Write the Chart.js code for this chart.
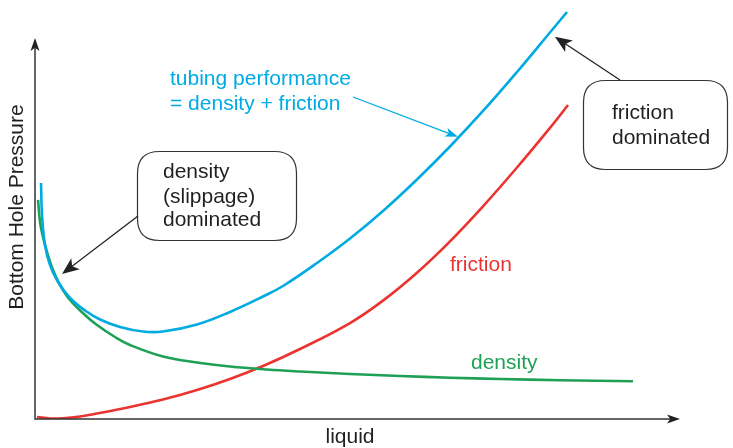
<!DOCTYPE html>
<html>
<head>
<meta charset="utf-8">
<script src="https://cdn.jsdelivr.net/npm/chart.js@4.4.1/dist/chart.umd.min.js"></script>
<style>
  html, body { margin: 0; padding: 0; background: #fff; }
  #wrap { width: 733px; height: 448px; }
</style>
</head>
<body>
<div id="wrap"><canvas id="c" width="733" height="448"></canvas></div>
<script>
// Schematic values (liquid rate vs bottom hole pressure, relative units 0-100)
const tubingX   = [0.93, 1.09, 1.55, 2.33, 3.57, 5.43, 7.75, 10.08, 13.18, 16.74, 19.84, 25.12, 30.23, 35.35, 38.45, 43.72, 48.84, 53.95, 59.22, 64.34, 69.46, 74.73, 79.84, 82.48];
const tubingY   = [56.32, 48.69, 41.53, 36.75, 32.70, 28.88, 25.89, 23.75, 21.96, 20.88, 20.88, 22.55, 25.54, 29.24, 31.74, 37.23, 43.08, 49.64, 57.16, 65.04, 73.51, 82.82, 92.24, 97.14];

const densityX  = [0.47, 0.78, 1.24, 1.86, 2.79, 3.88, 5.43, 7.75, 9.61, 12.40, 14.73, 19.84, 25.12, 30.23, 35.97, 41.09, 48.84, 56.59, 64.34, 72.09, 81.40, 92.71];
const densityY  = [52.27, 47.02, 43.44, 39.86, 35.56, 31.98, 28.40, 24.82, 22.43, 19.57, 17.66, 14.92, 13.48, 12.53, 11.81, 11.34, 10.74, 10.26, 9.86, 9.55, 9.26, 9.02];

const frictionX = [0.31, 2.33, 4.34, 6.98, 9.61, 14.73, 19.84, 25.12, 30.23, 35.35, 41.09, 48.84, 53.95, 59.22, 64.34, 69.46, 74.73, 79.84, 82.64];
const frictionY = [0.48, 0.12, 0.17, 0.60, 1.31, 2.86, 4.65, 6.92, 9.55, 12.65, 16.71, 22.91, 28.26, 34.92, 42.41, 50.76, 60.02, 69.47, 74.94];

// Arrow targets on the curves (data units)
const arrowTargets = {
  tubing:  [65.9, 67.1],
  density: [4.19, 34.6],
  friction:[80.6, 91.2]
};

const BLUE = 'rgb(0,170,226)';
const GREEN = 'rgb(30,160,85)';
const RED = 'rgb(234,52,48)';
const INK = '#231f20';
const FONT = '21px "Liberation Sans", Arial, sans-serif';

function pts(xs, ys) { return xs.map((x, i) => ({ x, y: ys[i] })); }

function stealth(ctx, x1, y1, x2, y2, len, half, fill) {
  const a = Math.atan2(y2 - y1, x2 - x1);
  const bx = x2 - len * Math.cos(a), by = y2 - len * Math.sin(a);
  const nx = -Math.sin(a), ny = Math.cos(a);
  const ix = x2 - len * 0.75 * Math.cos(a), iy = y2 - len * 0.75 * Math.sin(a);
  ctx.beginPath();
  ctx.moveTo(x2, y2);
  ctx.lineTo(bx + nx * half, by + ny * half);
  ctx.lineTo(ix, iy);
  ctx.lineTo(bx - nx * half, by - ny * half);
  ctx.closePath();
  ctx.fillStyle = fill;
  ctx.fill();
}

function arrowLine(ctx, x1, y1, x2, y2, color, width, len, half) {
  const a = Math.atan2(y2 - y1, x2 - x1);
  ctx.save();
  ctx.strokeStyle = color;
  ctx.lineWidth = width;
  ctx.beginPath();
  ctx.moveTo(x1, y1);
  ctx.lineTo(x2 - len * 0.6 * Math.cos(a), y2 - len * 0.6 * Math.sin(a));
  ctx.stroke();
  stealth(ctx, x1, y1, x2, y2, len, half, color);
  ctx.restore();
}

function roundBox(ctx, x, y, w, h, r) {
  ctx.beginPath();
  ctx.moveTo(x + r, y);
  ctx.lineTo(x + w - r, y);
  ctx.quadraticCurveTo(x + w, y, x + w, y + r);
  ctx.lineTo(x + w, y + h - r);
  ctx.quadraticCurveTo(x + w, y + h, x + w - r, y + h);
  ctx.lineTo(x + r, y + h);
  ctx.quadraticCurveTo(x, y + h, x, y + h - r);
  ctx.lineTo(x, y + r);
  ctx.quadraticCurveTo(x, y, x + r, y);
  ctx.closePath();
}

const decor = {
  id: 'decor',
  afterDraw(chart) {
    const ctx = chart.ctx;
    const ca = chart.chartArea;
    const xs = chart.scales.x, ys = chart.scales.y;
    ctx.save();

    // Axes with arrowheads
    ctx.strokeStyle = '#333';
    ctx.lineWidth = 1.5;
    ctx.beginPath();
    ctx.moveTo(ca.left, ca.top + 48);
    ctx.lineTo(ca.left, ca.bottom);
    ctx.lineTo(ca.right - 10, ca.bottom);
    ctx.stroke();
    stealth(ctx, ca.left, ca.bottom, ca.left, ca.top + 38, 13, 4.5, '#222');
    stealth(ctx, ca.left, ca.bottom, ca.right, ca.bottom, 13, 4.5, '#222');

    // Axis titles
    ctx.fillStyle = INK;
    ctx.font = FONT;
    ctx.textAlign = 'center';
    ctx.textBaseline = 'middle';
    ctx.fillText('liquid', 350, 437);
    ctx.save();
    ctx.translate(17, 207);
    ctx.rotate(-Math.PI / 2);
    ctx.fillText('Bottom Hole Pressure', 0, 0);
    ctx.restore();

    // Curve labels
    ctx.textAlign = 'left';
    ctx.fillStyle = BLUE;
    ctx.fillText('tubing performance', 170, 79);
    ctx.fillText('= density + friction', 170, 104);
    ctx.fillStyle = RED;
    ctx.fillText('friction', 450, 265);
    ctx.fillStyle = GREEN;
    ctx.fillText('density', 471, 363);

    // Boxes
    ctx.strokeStyle = '#333';
    ctx.lineWidth = 1.2;
    roundBox(ctx, 137.5, 151.5, 159, 89, 22);
    ctx.stroke();
    roundBox(ctx, 583.5, 80.5, 144, 89, 22);
    ctx.stroke();
    ctx.fillStyle = INK;
    ctx.fillText('density', 163, 172);
    ctx.fillText('(slippage)', 163, 197);
    ctx.fillText('dominated', 163, 220);
    ctx.fillText('friction', 612, 113);
    ctx.fillText('dominated', 612, 138);

    // Arrows
    const tb = arrowTargets.tubing, de = arrowTargets.density, fr = arrowTargets.friction;
    arrowLine(ctx, 353, 97, xs.getPixelForValue(tb[0]) - 2, ys.getPixelForValue(tb[1]) - 1, BLUE, 1.3, 13, 4.5);
    arrowLine(ctx, 138, 216, xs.getPixelForValue(de[0]), ys.getPixelForValue(de[1]), '#222', 1.3, 17, 7);
    arrowLine(ctx, 620, 80, xs.getPixelForValue(fr[0]), ys.getPixelForValue(fr[1]), '#222', 1.3, 17, 7);

    ctx.restore();
  }
};

new Chart(document.getElementById('c'), {
  type: 'line',
  data: {
    datasets: [
      { label: 'tubing performance', data: pts(tubingX, tubingY), borderColor: BLUE, borderWidth: 2.6 },
      { label: 'density', data: pts(densityX, densityY), borderColor: GREEN, borderWidth: 2.6 },
      { label: 'friction', data: pts(frictionX, frictionY), borderColor: RED, borderWidth: 2.6 }
    ]
  },
  options: {
    responsive: false,
    animation: false,
    devicePixelRatio: 1,
    layout: { padding: { left: 35, right: 53, top: 0, bottom: 29 } },
    elements: {
      point: { radius: 0 },
      line: { tension: 0.4, fill: false, capBezierPoints: true }
    },
    scales: {
      x: { type: 'linear', min: 0, max: 100, display: false },
      y: { type: 'linear', min: 0, max: 100, display: false }
    },
    plugins: { legend: { display: false }, tooltip: { enabled: false } }
  },
  plugins: [decor]
});
</script>
</body>
</html>
